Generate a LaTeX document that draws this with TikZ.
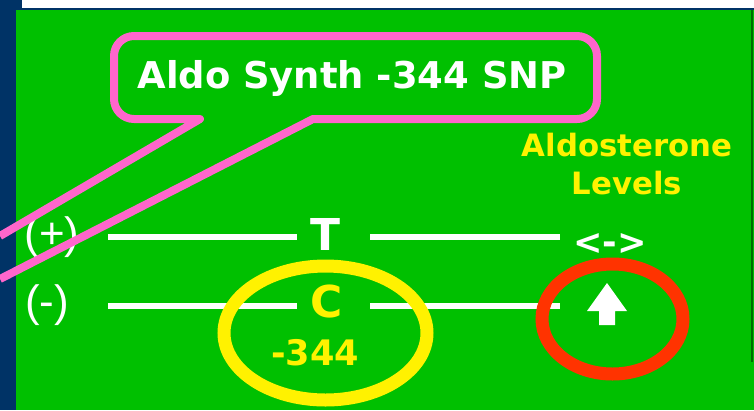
\documentclass[tikz,border=0pt]{standalone}
\usepackage{fontspec}
\setmainfont{DejaVu Sans}
\newfontfamily\parenfont{Liberation Sans}
\usepackage{tikz}
\usetikzlibrary{calc}

\definecolor{navy}{RGB}{0,51,102}
\definecolor{grass}{RGB}{0,192,0}
\definecolor{darkgrass}{RGB}{0,110,0}
\definecolor{bubblepink}{RGB}{255,102,204}
\definecolor{alarm}{RGB}{255,51,0}

\begin{document}
\begin{tikzpicture}[x=0.02cm, y=-0.02cm,
        txt/.style={inner sep=0pt, anchor=base, text=white, font=\bfseries\fontsize{25}{30}\selectfont},
        sign/.style={inner sep=0pt, anchor=base, text=white, font=\parenfont\fontsize{25}{30}\selectfont},
        bar/.style={draw=white, line width=1.2mm},
        callout/.style={draw=bubblepink, line width=1.6mm, line join=round},
        ring/.style={line width=2.6mm}
    ]
        % Background
        \useasboundingbox (0,0) rectangle (754,410);
        \clip (0,0) rectangle (754,410);
        \fill[navy] (0,0) rectangle (754,410);
        \fill[white] (22,0) rectangle (754,8);
        \fill[grass] (16,10) rectangle (754,410);
        \draw[darkgrass, line width=0.4mm] (752,10) -- (752,362);

        % Aldosterone levels
        \node[txt, text=yellow, align=center, anchor=center, font=\bfseries\fontsize{17.5}{21.5}\selectfont] (aldo) at (627,164) {Aldosterone\\Levels};

        % Alleles
        \coordinate (rowT) at (0,237);
        \coordinate (rowC) at (0,306);
        \node[sign] (plus) at (52,248) {(+)};
        \node[txt] (tee) at (325,250) {T};
        \node[txt, font=\bfseries\fontsize{20}{24}\selectfont] (same) at (610,254) {<->};
        \node[sign] (minus) at (47,316) {(-)};
        \node[txt, text=yellow] (cee) at (327,317) {C};
        \node[txt, text=yellow, font=\bfseries\fontsize{20}{24}\selectfont] (pos) at (315,365) {-344};
        \coordinate (up) at (607,304);

        % Lines
        \draw[bar] ($(plus.east |- rowT)+(28,0)$) -- ($(tee.west |- rowT)+(-13,0)$);
        \draw[bar] ($(tee.east |- rowT)+(30,0)$) -- ($(same.west |- rowT)+(-13,0)$);
        \draw[bar] ($(minus.east |- rowC)+(39,0)$) -- ($(cee.west |- rowC)+(-14,0)$);
        \draw[bar] ($(cee.east |- rowC)+(27,0)$) -- ($(up |- rowC)+(-47,0)$);

        % Up arrow
        \fill[white, shift={(up)}] (0,-21) -- (20,7) -- (8,7) -- (8,21) -- (-8,21) -- (-8,7) -- (-20,7) -- cycle;

        % Circles
        \draw[ring, yellow] (325.5,333) ellipse (101.5 and 67);
        \draw[ring, alarm] (612.5,319) ellipse (70.5 and 55);

        % Callout
        \node[txt, font=\bfseries\fontsize{21}{25}\selectfont] (snp) at (352,88) {Aldo Synth -344 SNP};
        \draw[callout] (0,236) -- (200,119) -- (180,119) [rounded corners=4mm] -- (114,119) -- (114,36)
            -- (597,36) -- (597,119) -- (500,119) [sharp corners] -- (313,119) -- (0,279);

    \end{tikzpicture}
\end{document}
